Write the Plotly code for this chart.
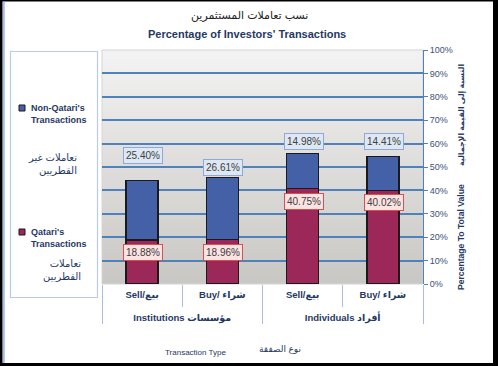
import base64
import plotly.graph_objects as go

# ---------------- data ----------------
investor_groups = ["Institutions مؤسسات", "Institutions مؤسسات", "Individuals أفراد", "Individuals أفراد"]
transaction_types = ["Sell/بيع", "Buy/ شراء", "Sell/بيع", "Buy/ شراء"]
qatari_pct = [18.88, 18.96, 40.75, 40.02]
non_qatari_pct = [25.40, 26.61, 14.98, 14.41]
y_tick_values = [0, 10, 20, 30, 40, 50, 60, 70, 80, 90, 100]
grid_values = [10, 20, 30, 40, 50, 60, 70, 80, 90]

# ---------------- layout geometry ----------------
W, H = 498, 366
L, R, T, B = 102, 75, 50, 82
PW, PH = W - L - R, H - T - B


def px(x):
    return (x - L) / PW


def py(y):
    return (H - B - y) / PH


NAVY = "#1f3864"
BLUE = "#4461a8"
CRIMSON = "#9b2859"
GRID = "#4f81bd"
DIV = "#a7bfde"
FONT = "Liberation Sans, Arial, DejaVu Sans, sans-serif"

# level-2 labels get a leading blank line to reproduce the spacing of the two rows
x_cats = [["<br>" + g for g in investor_groups], transaction_types]

fig = go.Figure()
fig.add_trace(go.Bar(
    x=x_cats, y=qatari_pct, name="Qatari's Transactions",
    marker=dict(color=CRIMSON, line=dict(color="#1a1a1a", width=1.5)),
    width=0.4, hoverinfo="y",
))
fig.add_trace(go.Bar(
    x=x_cats, y=non_qatari_pct, name="Non-Qatari's Transactions",
    marker=dict(color=BLUE, line=dict(color="#1a1a1a", width=1.5)),
    width=0.4, hoverinfo="y",
))

annotations = []
# value labels
top_shift = [16, 1, 4, 7]
for i, (q, n) in enumerate(zip(qatari_pct, non_qatari_pct)):
    annotations.append(dict(
        x=i, y=q + n, xref="x", yref="y", text=f"{n:.2f}%", showarrow=False,
        yanchor="bottom", yshift=top_shift[i], xshift=1,
        bgcolor="#dde8f4", bordercolor="#8eaad4", borderwidth=1, borderpad=2,
        font=dict(family=FONT, size=10, color="#404040"),
    ))
    annotations.append(dict(
        x=i, y=q, xref="x", yref="y", text=f"{q:.2f}%", showarrow=False,
        yanchor="top", yshift=-4, xshift=1,
        bgcolor="#fbe3e3", bordercolor="#d8504c", borderwidth=1, borderpad=2,
        font=dict(family=FONT, size=10, color="#404040"),
    ))


def ann(text, x, y, size, color=NAVY, bold=False, xanchor="center", align="center", angle=0, family=FONT):
    if bold:
        text = "<b>" + text + "</b>"
    annotations.append(dict(
        x=px(x), y=py(y), xref="paper", yref="paper", text=text, showarrow=False,
        xanchor=xanchor, yanchor="middle", align=align, textangle=angle,
        font=dict(family=family, size=size, color=color),
    ))


# titles
ann("نسب تعاملات المستثمرين", 249, 15, 11, color="#222222")
ann("Percentage of Investors' Transactions", 247, 34, 11, bold=True)
# right axis titles
ann("Percentage To Total Value", 461, 237, 8.6, bold=True, angle=-90)
ann("النسبة إلى القيمة الإجمالية", 461, 115, 7.8, bold=True, angle=-90)
# x axis titles
ann("Transaction Type", 195, 352, 8)
ann("نوع الصفقة", 280, 349, 9)
# legend texts
ann("Non-Qatari's<br>Transactions", 29, 113.5, 9, bold=True, xanchor="left", align="left")
ann("تعاملات غير<br>القطريين", 79, 164, 10, xanchor="right", align="right")
ann("Qatari's<br>Transactions", 29, 237.5, 9, bold=True, xanchor="left", align="left")
ann("تعاملات<br>القطريين", 83, 270, 10, xanchor="right", align="right")

shapes = []


def rect(x0, y0, x1, y1, fill=None, line=None, lw=1, layer="above"):
    shapes.append(dict(
        type="rect", xref="paper", yref="paper",
        x0=px(x0), x1=px(x1), y0=py(y1), y1=py(y0),
        fillcolor=fill if fill else "rgba(0,0,0,0)",
        line=dict(color=line if line else "rgba(0,0,0,0)", width=lw if line else 0),
        layer=layer,
    ))


# legend box and markers
rect(10.5, 51.5, 97.5, 297.5, line="#b9cbe6", lw=1.2)
rect(19, 105, 25, 111, fill=BLUE, line="#1a1a1a", lw=1)
rect(19, 229, 25, 235, fill=CRIMSON, line="#1a1a1a", lw=1)
# plot area border
rect(102, 50, 423, 284, line="#d4d4d4", lw=1, layer="below")
# outer frame
rect(0, 0, 2.5, 366, fill="#000000")
rect(0, 0, 498, 1.5, fill="#000000")
rect(493, 0, 498, 366, fill="#000000")
rect(0, 363, 498, 366, fill="#000000")
rect(3.2, 1.5, 4.6, 363, fill="#8eaadb")

# gradient for plot background
svg = ('<svg xmlns="http://www.w3.org/2000/svg" width="100" height="100" viewBox="0 0 100 100" '
       'preserveAspectRatio="none"><defs><linearGradient id="g" x1="0" y1="0" x2="0" y2="1">'
       '<stop offset="0" stop-color="#f3f3f3"/><stop offset="1" stop-color="#c9c7c3"/>'
       '</linearGradient></defs><rect width="100" height="100" fill="url(#g)"/></svg>')
bg_src = "data:image/svg+xml;base64," + base64.b64encode(svg.encode()).decode()

fig.update_layout(
    width=W, height=H,
    margin=dict(l=L, r=R, t=T, b=B, pad=0),
    paper_bgcolor="white", plot_bgcolor="rgba(0,0,0,0)",
    barmode="stack", showlegend=False,
    font=dict(family=FONT, color=NAVY),
    annotations=annotations, shapes=shapes,
    images=[dict(source=bg_src, xref="paper", yref="paper", x=0, y=1, sizex=1, sizey=1,
                 xanchor="left", yanchor="top", sizing="stretch", layer="below")],
    xaxis=dict(
        type="multicategory", showdividers=True, dividercolor=DIV, dividerwidth=1,
        ticks="outside", ticklen=22, tickcolor=DIV, tickson="boundaries",
        ticklabelstandoff=3,
        tickfont=dict(family=FONT, size=9.5, color=NAVY, weight="bold"),
        showgrid=False, showline=False, zeroline=False,
    ),
    yaxis=dict(
        side="right", range=[0, 100], tickvals=y_tick_values,
        ticktext=[f"{v}%" for v in y_tick_values],
        showgrid=False, zeroline=False,
        minor=dict(tickvals=grid_values, showgrid=True, gridcolor=GRID, gridwidth=1.5, ticks=""),
        showline=True, linecolor=GRID, linewidth=1,
        ticks="outside", ticklen=4, tickcolor=GRID,
        tickfont=dict(family=FONT, size=9, color="#3e4f7a"),
    ),
)

fig.write_html(
    "out.html",
    config={"displayModeBar": False},
    post_script="document.body.style.margin='0px';document.body.style.overflow='hidden';",
)
